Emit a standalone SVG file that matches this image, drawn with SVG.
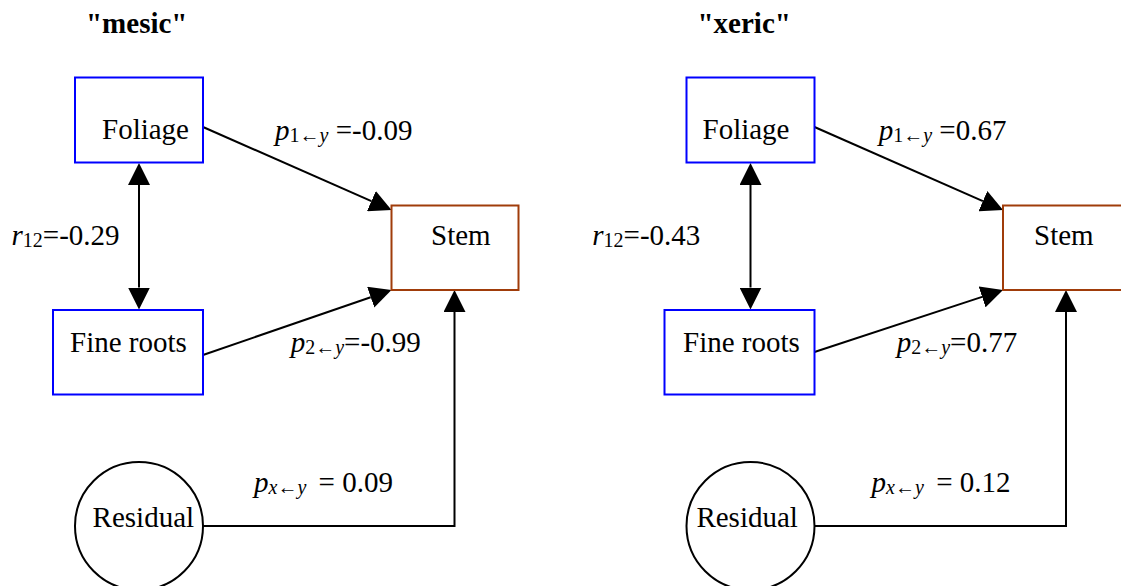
<svg xmlns="http://www.w3.org/2000/svg" width="1121" height="586" viewBox="0 0 1121 586" font-family="'Liberation Serif', Tinos, 'Times New Roman', Times, 'Nimbus Roman', 'DejaVu Serif', serif">
<style>
  text { font-family: 'Liberation Serif', Tinos, 'Times New Roman', Times, 'Nimbus Roman', 'DejaVu Serif', serif; font-size: 29px; fill: #000; }
  .title { font-weight: bold; }
  .it { font-style: italic; }
  .sub { font-size: 20px; }
  .blue { fill: #fff; stroke: #0000ff; stroke-width: 2; }
  .brown { fill: #fff; stroke: #a03c0a; stroke-width: 2; }
  .circ { fill: #fff; stroke: #000; stroke-width: 2; }
  .edge { fill: none; stroke: #000; stroke-width: 2; }
</style>
<defs>
  <marker id="ah" markerUnits="userSpaceOnUse" markerWidth="22" markerHeight="22" refX="0" refY="11" orient="auto-start-reverse" viewBox="0 0 22 22">
    <path d="M0,0 L22,11 L0,22 z" fill="#000"/>
  </marker>
</defs>
<rect width="1121" height="586" fill="#fff"/>

<!-- left panel -->
<text class="title" x="86" y="33">"mesic"</text>
<g id="edges-mesic">
  <line class="edge" x1="139" y1="185" x2="139" y2="287.5" marker-start="url(#ah)" marker-end="url(#ah)"/>
  <line class="edge" x1="203" y1="127" x2="371.4" y2="201.1" marker-end="url(#ah)"/>
  <line class="edge" x1="203" y1="355" x2="370.7" y2="297.2" marker-end="url(#ah)"/>
  <polyline class="edge" points="203,526 454.5,526 454.5,312" marker-end="url(#ah)"/>
  <text x="275" y="140"><tspan class="it">p</tspan><tspan class="sub" dy="2">1←<tspan class="it">y</tspan></tspan><tspan dy="-2"> =-0.09</tspan></text>
  <text x="290.7" y="352"><tspan class="it">p</tspan><tspan class="sub" dy="2">2←<tspan class="it">y</tspan></tspan><tspan dy="-2">=-0.99</tspan></text>
  <text x="254" y="492"><tspan class="it">p</tspan><tspan class="sub" dy="2"><tspan class="it">x</tspan>←<tspan class="it">y</tspan></tspan><tspan dy="-2" dx="5"> = 0.09</tspan></text>
  <text x="11.5" y="245"><tspan class="it">r</tspan><tspan class="sub" dy="2">12</tspan><tspan dy="-2">=-0.29</tspan></text>
</g>
<g id="mesic-foliage">
  <rect class="blue" x="75" y="77.5" width="128" height="85"/>
  <text x="102" y="139">Foliage</text>
</g>
<g id="mesic-fineroots">
  <rect class="blue" x="53" y="310" width="150" height="84.5"/>
  <text x="70" y="352">Fine roots</text>
</g>
<g id="mesic-stem">
  <rect class="brown" x="391.5" y="205.5" width="127" height="84.5"/>
  <text x="431" y="245">Stem</text>
</g>
<g id="mesic-residual">
  <circle class="circ" cx="139" cy="526" r="64"/>
  <text x="92.6" y="527">Residual</text>
</g>

<!-- right panel -->
<text class="title" x="697.5" y="33">"xeric"</text>
<g id="edges-xeric">
  <line class="edge" x1="750.5" y1="185" x2="750.5" y2="287.5" marker-start="url(#ah)" marker-end="url(#ah)"/>
  <line class="edge" x1="814.5" y1="127" x2="982.9" y2="201.1" marker-end="url(#ah)"/>
  <line class="edge" x1="814.5" y1="352" x2="982.1" y2="296.9" marker-end="url(#ah)"/>
  <polyline class="edge" points="814.5,526 1066,526 1066,312" marker-end="url(#ah)"/>
  <text x="878.7" y="140"><tspan class="it">p</tspan><tspan class="sub" dy="2">1←<tspan class="it">y</tspan></tspan><tspan dy="-2"> =0.67</tspan></text>
  <text x="896.7" y="352"><tspan class="it">p</tspan><tspan class="sub" dy="2">2←<tspan class="it">y</tspan></tspan><tspan dy="-2">=0.77</tspan></text>
  <text x="871.6" y="492"><tspan class="it">p</tspan><tspan class="sub" dy="2"><tspan class="it">x</tspan>←<tspan class="it">y</tspan></tspan><tspan dy="-2" dx="5"> = 0.12</tspan></text>
  <text x="592.3" y="245"><tspan class="it">r</tspan><tspan class="sub" dy="2">12</tspan><tspan dy="-2">=-0.43</tspan></text>
</g>
<g id="xeric-foliage">
  <rect class="blue" x="686.5" y="77.5" width="128" height="85"/>
  <text x="702.5" y="139">Foliage</text>
</g>
<g id="xeric-fineroots">
  <rect class="blue" x="664.5" y="310" width="150" height="84.5"/>
  <text x="683" y="352">Fine roots</text>
</g>
<g id="xeric-stem">
  <rect class="brown" x="1003" y="205.5" width="127" height="84.5"/>
  <text x="1034" y="245">Stem</text>
</g>
<g id="xeric-residual">
  <circle class="circ" cx="750.5" cy="526" r="64"/>
  <text x="696.4" y="527">Residual</text>
</g>
</svg>
